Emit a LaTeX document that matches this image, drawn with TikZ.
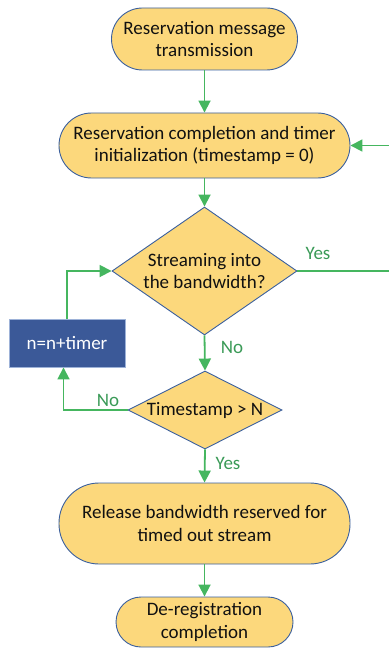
\documentclass[tikz,border=0pt]{standalone}
\usepackage{fontspec}
\setmainfont{Carlito}
\usetikzlibrary{shapes.geometric,arrows.meta}
\definecolor{fillY}{HTML}{FCD87C}
\definecolor{edgeB}{HTML}{3A5F9E}
\definecolor{boxB}{HTML}{3B5998}
\definecolor{boxE}{HTML}{9DB2D8}
\definecolor{arrG}{HTML}{45B65F}
\definecolor{lblG}{HTML}{3A9A57}
\definecolor{txt}{HTML}{111111}
\begin{document}
\begin{tikzpicture}[x=1pt,y=-1pt,
  font=\fontsize{19}{22.5}\selectfont,
  term/.style={rectangle,draw=edgeB,line width=0.9pt,fill=fillY,text=txt,align=center,inner sep=0pt},
  dec/.style={diamond,draw=edgeB,line width=0.9pt,fill=fillY,text=txt,align=center,inner sep=0pt},
  proc/.style={rectangle,draw=boxE,line width=0.9pt,fill=boxB,text=white,align=center,inner sep=0pt},
  flow/.style={draw=arrG,line width=1.8pt,-{Triangle[width=12pt,length=12pt]}},
  lbl/.style={text=lblG,inner sep=0pt}]
\useasboundingbox (0,0) rectangle (388,650);
\node[term,minimum width=186pt,minimum height=62pt,rounded corners=31pt] (n1) at (204.5,39) {Reservation message\\transmission};
\node[term,minimum width=291pt,minimum height=65pt,rounded corners=32.5pt] (n2) at (204.5,145.5) {Reservation completion and timer\\initialization (timestamp = 0)};
\node[dec,minimum width=185pt,minimum height=128pt,shape aspect=1.445] (d1) at (204.5,271) {Streaming into\\the bandwidth?};
\node[proc,minimum width=116pt,minimum height=48pt] (bx) at (67,343) {n=n+timer};
\node[dec,minimum width=154pt,minimum height=78pt,shape aspect=1.97] (d2) at (205,410) {Timestamp > N};
\node[term,minimum width=291pt,minimum height=81pt,rounded corners=40pt] (n3) at (204.5,523.5) {Release bandwidth reserved for\\timed out stream};
\node[term,minimum width=177pt,minimum height=50pt,rounded corners=25pt] (n4) at (204.5,622) {De-registration\\completion};
\coordinate (rt) at (398,271);
\coordinate (lt) at (67,271);
\coordinate (lb) at (63.5,410);
\draw[flow] (n1) -- (n2);
\draw[flow] (n2) -- (d1);
\draw[flow] (d1.south) -- (d2.north);
\draw[flow] (d2.south) -- (n3.north);
\draw[flow] (n3) -- (n4);
\draw[flow] (d1.east) -- (rt) |- (n2.east);
\draw[flow] (bx.north) -- (lt) -- (d1.west);
\draw[flow] (d2.west) -- (lb) -- (lb |- bx.south);
\node[lbl] (yes1) at (318,253) {Yes};
\node[lbl] (no1) at (232,347) {No};
\node[lbl] (no2) at (108,400) {No};
\node[lbl] (yes2) at (228,463) {Yes};
\end{tikzpicture}
\end{document}
